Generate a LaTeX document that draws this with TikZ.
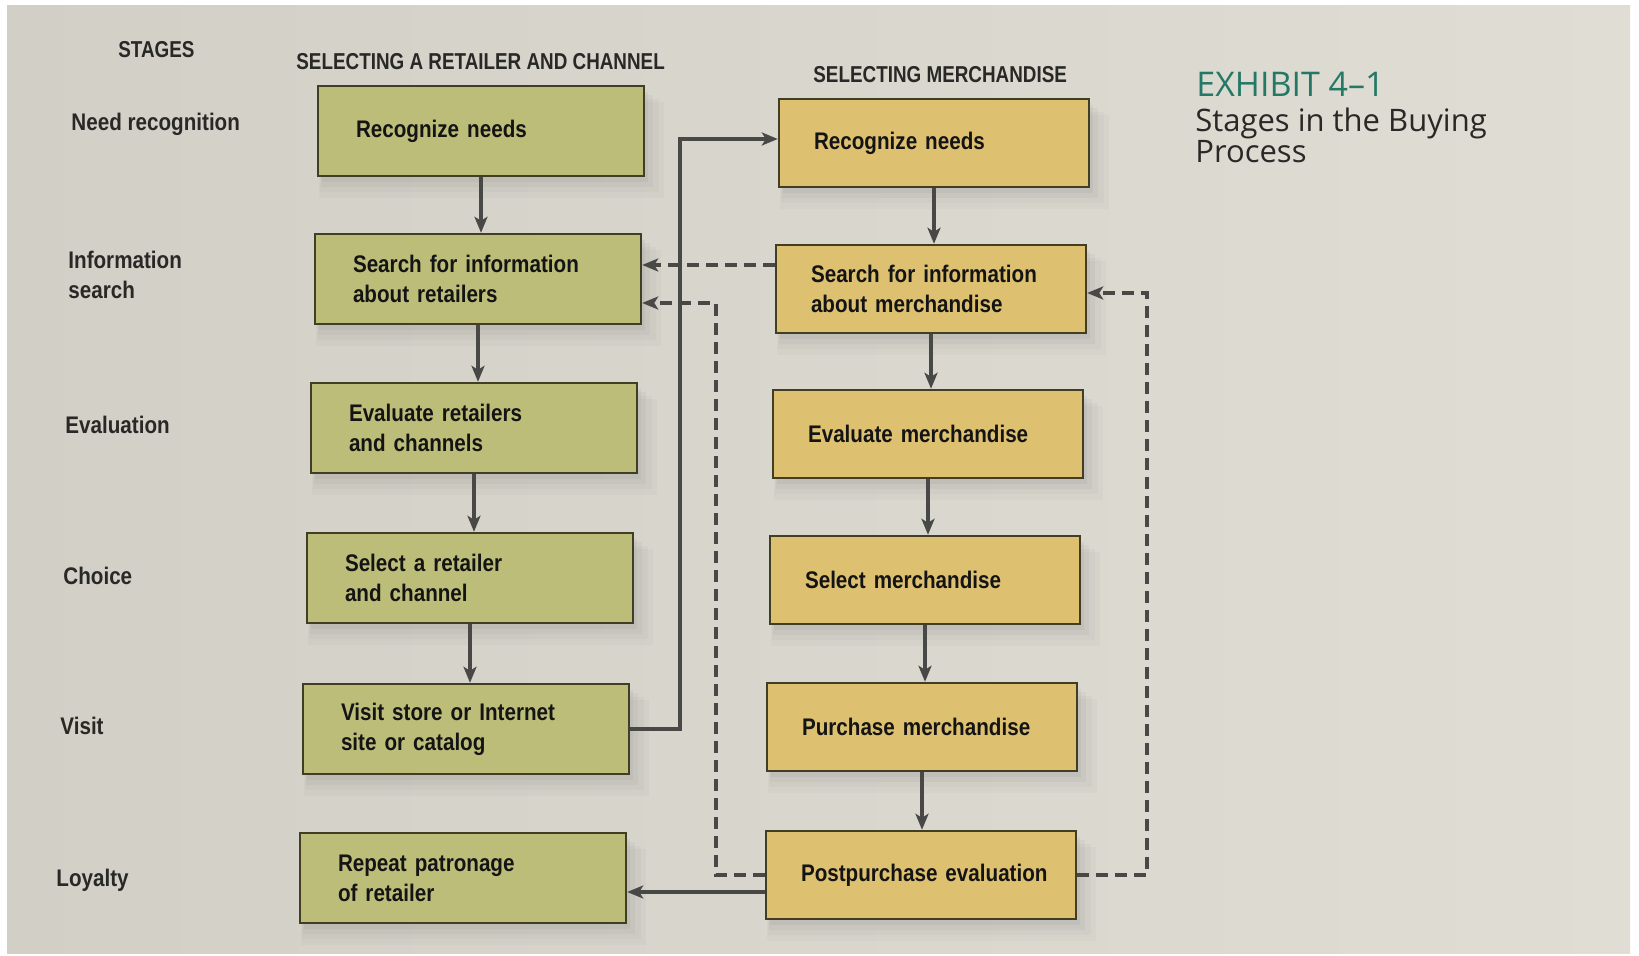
\documentclass[tikz,border=0pt]{standalone}
\usepackage{fontspec}
\usetikzlibrary{arrows.meta,shadows}
\newfontfamily\condfont{Liberation Sans}[FakeStretch=0.86]
\newfontfamily\headfont{Liberation Sans}[FakeStretch=0.82]
\newfontfamily\exfont{Open Sans}
\definecolor{paperL}{RGB}{210,207,198}
\definecolor{paperR}{RGB}{224,221,213}
\definecolor{greenbox}{RGB}{189,189,122}
\definecolor{tanbox}{RGB}{221,192,112}
\definecolor{boxline}{RGB}{66,62,38}
\definecolor{wire}{RGB}{72,72,70}
\definecolor{labelgrey}{RGB}{40,40,38}
\definecolor{teal}{RGB}{36,120,102}
\begin{document}
\begin{tikzpicture}[x=0.5pt,y=-0.5pt,
  boxtext/.style={font=\condfont\bfseries\fontsize{12pt}{15pt}\selectfont, text=black!92},
  stagebox/.style={boxtext, draw=boxline, line width=1.2pt, align=left,
    drop shadow={opacity=0.05, shadow xshift=5pt, shadow yshift=-9pt, shadow scale=1.06},
    drop shadow={opacity=0.06, shadow xshift=4pt, shadow yshift=-7pt, shadow scale=1.04},
    drop shadow={opacity=0.08, shadow xshift=3pt, shadow yshift=-5pt, shadow scale=1.02},
    drop shadow={opacity=0.10, shadow xshift=2pt, shadow yshift=-3pt}},
  lbox/.style={stagebox, fill=greenbox, text width=125pt, inner xsep=19pt, minimum height=45pt},
  rbox/.style={stagebox, fill=tanbox, text width=120pt, inner xsep=17.5pt, minimum height=44pt},
  stagelabel/.style={font=\condfont\bfseries\fontsize{12pt}{15pt}\selectfont, text=labelgrey, anchor=west, align=left, inner sep=0pt},
  heading/.style={font=\headfont\bfseries\fontsize{11.5pt}{13pt}\selectfont, text=labelgrey, anchor=west, inner sep=0pt},
  flow/.style={draw=wire, line width=1.6pt, -{Stealth[length=8pt,width=6.5pt,inset=2pt]}},
  feedback/.style={flow, dash pattern=on 6pt off 3.5pt}
]
\useasboundingbox (0,0) rectangle (1639,956);
% page and paper
\fill[white] (0,0) rectangle (1639,956);
\shade[left color=paperL, right color=paperR] (7,6) rectangle (1630,953);

% column headings
\node[heading] (hstages) at (118,50) {STAGES};
\node[heading] (hretail) at (296,62) {SELECTING A RETAILER AND CHANNEL};
\node[heading] (hmerch) at (813,75) {SELECTING MERCHANDISE};

% exhibit caption
\node[anchor=west, inner sep=0pt, text=teal, font=\exfont\fontsize{17pt}{20pt}\selectfont] (exnum) at (1196,84) {EXHIBIT 4–1};
\node[anchor=north west, inner sep=0pt, align=left, text=labelgrey, font=\exfont\fontsize{15.5pt}{15.5pt}\selectfont] (extitle) at (1195,108) {Stages in the Buying\\Process};

% stage names
\node[stagelabel] (sNeed) at (71,124) {Need recognition};
\node[stagelabel] (sInfo) at (68,275) {Information\\search};
\node[stagelabel] (sEval) at (65,425) {Evaluation};
\node[stagelabel] (sChoice) at (63,576) {Choice};
\node[stagelabel] (sVisit) at (60,726) {Visit};
\node[stagelabel] (sLoyal) at (56,880) {Loyalty};

% retailer and channel column
\node[lbox] (L1) at (481,131) {Recognize needs};
\node[lbox] (L2) at (478,279) {Search for information\\about retailers};
\node[lbox] (L3) at (474,428) {Evaluate retailers\\and channels};
\node[lbox] (L4) at (470,578) {Select a retailer\\and channel};
\node[lbox] (L5) at (466,729) {Visit store or Internet\\site or catalog};
\node[lbox] (L6) at (463,878) {Repeat patronage\\of retailer};

% merchandise column
\node[rbox] (R1) at (934,143) {Recognize needs};
\node[rbox] (R2) at (931,289) {Search for information\\about merchandise};
\node[rbox] (R3) at (928,434) {Evaluate merchandise};
\node[rbox] (R4) at (925,580) {Select merchandise};
\node[rbox] (R5) at (922,727) {Purchase merchandise};
\node[rbox] (R6) at (921,875) {\mbox{Postpurchase evaluation}};

% downward flow in each column
\foreach \a/\b in {L1/L2,L2/L3,L3/L4,L4/L5,R1/R2,R2/R3,R3/R4,R4/R5,R5/R6}
  \draw[flow] (\a.south) -- (\a.south |- \b.north);

% visit leads to recognizing merchandise needs
\coordinate (vturn) at (680,139);
\draw[flow] (L5.east) -| (vturn) -- (vturn -| R1.west);

% feedback loops
\coordinate (fb1) at (0,265);
\draw[feedback] (R2.west |- fb1) -- (L2.east |- fb1);
\coordinate (fb2) at (716,303);
\draw[feedback] (R6.west) -| (fb2) -- (fb2 -| L2.east);
\coordinate (fb3) at (1147,293);
\draw[feedback] (R6.east) -| (fb3) -- (fb3 -| R2.east);

% postpurchase evaluation leads to loyalty
\coordinate (loy) at (0,892);
\draw[flow] (R6.west |- loy) -- (L6.east |- loy);
\end{tikzpicture}
\end{document}
